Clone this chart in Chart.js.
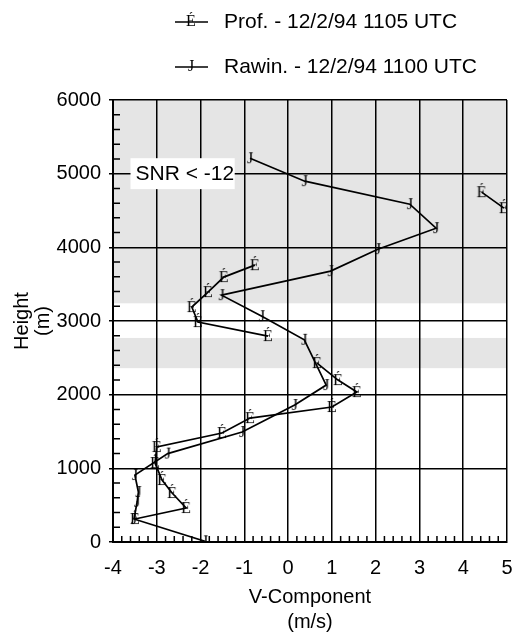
<!DOCTYPE html>
<html>
<head>
<meta charset="utf-8">
<script src="https://cdn.jsdelivr.net/npm/chart.js@4/dist/chart.umd.min.js"></script>
<style>
  html, body { margin: 0; padding: 0; background: #fff; }
  canvas { display: block; }
</style>
</head>
<body>
<canvas id="myChart" width="516" height="635"></canvas>
<script>
// profiler, V component (m/s) vs height (m); null = gap in the line
const profV = [-3.5, -2.33, -2.65, -2.88, -3.04, -3.0, -1.51, -0.87, 1.0, 1.57, 1.14, 0.66, null, -0.46, -2.06, -2.2, -1.83, -1.47, -0.76, null, 4.42, 4.93];
const profH = [312, 461, 665, 841, 1072, 1289, 1479, 1682, 1832, 2035, 2198, 2429, null, 2795, 2985, 3189, 3392, 3596, 3758, null, 4749, 4532];
// rawinsonde
const rawV = [-1.9, -3.52, -3.45, -3.42, -3.5, -2.75, -1.05, 0.15, 0.87, 0.37, -0.6, -1.52, 0.97, 2.05, 3.38, 2.78, 0.38, -0.87];
const rawH = [10, 312, 543, 678, 909, 1200, 1493, 1859, 2130, 2745, 3066, 3351, 3677, 3975, 4260, 4586, 4898, 5210];
// shaded height bands (low SNR)
const bandFrom = [2360, 3240];
const bandTo = [2770, 6000];
const xTicks = [-4, -3, -2, -1, 0, 1, 2, 3, 4, 5];
const yTicks = [0, 1000, 2000, 3000, 4000, 5000, 6000];

const FONT = '"Liberation Sans", Arial, sans-serif';

function glyph(ch) {
    const c = document.createElement('canvas');
    c.width = 16; c.height = 18;
    const g = c.getContext('2d');
    g.font = '16px "Liberation Serif", "Times New Roman", serif';
    g.textAlign = 'center';
    g.textBaseline = 'middle';
    g.fillStyle = '#000';
    g.fillText(ch, 8, 10);
    return c;
}
const profMark = glyph('É');
const rawMark = glyph('J');

function pts(xs, ys) {
    return xs.map((x, i) => ({ x: x, y: ys[i] }));
}

const bandsPlugin = {
    id: 'bands',
    beforeDraw(chart) {
        const { ctx, chartArea: a, scales: { y } } = chart;
        ctx.save();
        ctx.fillStyle = '#e5e5e5';
        bandFrom.forEach((b, i) => {
            const y1 = y.getPixelForValue(bandTo[i]);
            const y2 = y.getPixelForValue(b);
            ctx.fillRect(a.left, y1, a.right - a.left, y2 - y1);
        });
        ctx.restore();
    },
    beforeDatasetsDraw(chart) {
        // SNR label box sits over the grid
        const { ctx, scales: { x, y } } = chart;
        const left = x.getPixelForValue(-3.6), right = x.getPixelForValue(-1.22);
        const top = y.getPixelForValue(5210), bot = y.getPixelForValue(4790);
        ctx.save();
        ctx.fillStyle = '#fff';
        ctx.fillRect(left, top, right - left, bot - top);
        ctx.fillStyle = '#000';
        ctx.font = '21px ' + FONT;
        ctx.textBaseline = 'middle';
        ctx.fillText('SNR < -12', left + 5, (top + bot) / 2 + 1);
        ctx.restore();
    },
    afterDraw(chart) {
        const { ctx, chartArea: a, scales: { x, y } } = chart;
        ctx.save();
        ctx.strokeStyle = '#000';
        ctx.lineWidth = 1.5;
        ctx.beginPath();
        for (let v = -40; v <= 50; v += 2) {
            if (v % 10 === 0) continue;
            const px = x.getPixelForValue(v / 10);
            ctx.moveTo(px, a.bottom);
            ctx.lineTo(px, a.bottom - 6);
        }
        for (let h = 200; h < 6000; h += 200) {
            if (h % 1000 === 0) continue;
            const py = y.getPixelForValue(h);
            ctx.moveTo(a.left, py);
            ctx.lineTo(a.left + 7, py);
        }
        ctx.stroke();

        // legend
        ctx.font = '21px ' + FONT;
        ctx.textBaseline = 'middle';
        ctx.fillStyle = '#000';
        chart.data.datasets.forEach((ds, i) => {
            const ly = 22 + i * 45;
            ctx.beginPath();
            ctx.moveTo(175, ly);
            ctx.lineTo(208, ly);
            ctx.stroke();
            ctx.drawImage(ds.pointStyle, 191 - 8, ly - 10);
            ctx.fillText(ds.label, 224, ly);
        });
        ctx.restore();
    }
};

const ctx = document.getElementById('myChart').getContext('2d');
const myChart = new Chart(ctx, {
    type: 'scatter',
    data: {
        datasets: [{
            label: 'Prof. - 12/2/94 1105 UTC',
            data: pts(profV, profH),
            showLine: true,
            borderColor: '#000',
            borderWidth: 1.7,
            pointStyle: profMark,
            spanGaps: false
        }, {
            label: 'Rawin. - 12/2/94 1100 UTC',
            data: pts(rawV, rawH),
            showLine: true,
            borderColor: '#000',
            borderWidth: 1.7,
            pointStyle: rawMark
        }]
    },
    options: {
        responsive: false,
        animation: false,
        layout: { padding: { top: 100, right: 9, left: 0, bottom: 0 } },
        plugins: {
            legend: { display: false },
            tooltip: { enabled: false }
        },
        scales: {
            x: {
                type: 'linear',
                min: -4,
                max: 5,
                afterBuildTicks(s) { s.ticks = xTicks.map(v => ({ value: v })); },
                afterFit(s) { s.height = 93; s.paddingRight = 0; s.paddingLeft = 0; },
                grid: { color: '#000', lineWidth: 1.5, drawTicks: false },
                border: { color: '#000', width: 2 },
                ticks: { color: '#000', font: { family: FONT, size: 20 }, padding: 14 },
                title: {
                    display: true,
                    text: ['V-Component', '(m/s)'],
                    color: '#000',
                    font: { family: FONT, size: 20, lineHeight: 1.25 },
                    padding: { top: 0, bottom: 0 }
                }
            },
            y: {
                min: 0,
                max: 6000,
                afterBuildTicks(s) { s.ticks = yTicks.map(v => ({ value: v })); },
                afterFit(s) { s.width = 113; s.paddingTop = 0; s.paddingBottom = 0; },
                grid: { color: '#000', lineWidth: 1.5, tickLength: 4, tickColor: '#000' },
                border: { color: '#000', width: 2 },
                ticks: {
                    color: '#000',
                    font: { family: FONT, size: 20 },
                    padding: 8,
                    callback: v => String(v)
                },
                title: {
                    display: true,
                    text: ['Height', '(m)'],
                    color: '#000',
                    font: { family: FONT, size: 20, lineHeight: 1.05 },
                    padding: { top: 12, bottom: 0 }
                }
            }
        }
    },
    plugins: [bandsPlugin]
});
</script>
</body>
</html>
